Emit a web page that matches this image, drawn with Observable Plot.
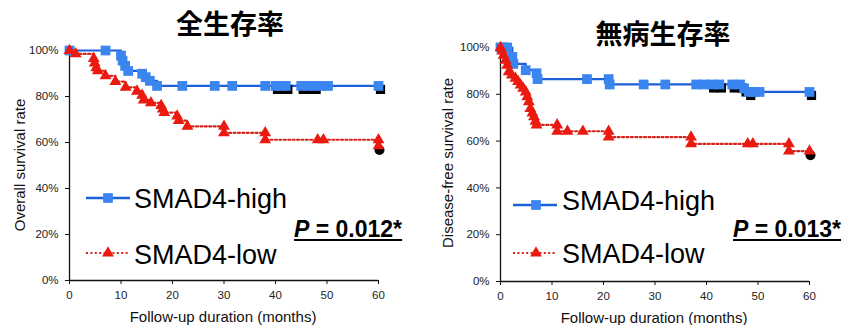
<!DOCTYPE html>
<html>
<head>
<meta charset="utf-8">
<script src="https://cdn.jsdelivr.net/npm/d3@7"></script>
<script src="https://cdn.jsdelivr.net/npm/@observablehq/plot@0.6"></script>
<style>
  body { margin: 0; background: #fff; }
  #wrap { position: relative; width: 849px; height: 325px; overflow: hidden; background: #fff; }
  .panel { position: absolute; top: 0; width: 425px; height: 325px; }
  #overlay { position: absolute; left: 0; top: 0; pointer-events: none; }
  #overlay text { font-family: "Liberation Sans", Arial, sans-serif; fill: #000; }
</style>
</head>
<body>
<div id="wrap">
  <div class="panel" id="left" style="left:0"></div>
  <div class="panel" id="right" style="left:425px"></div>
  <svg id="overlay" width="849" height="325"></svg>
</div>
<script>
// ---------- data ----------
const titles = ["全生存率", "無病生存率"];
const yLabels = ["Overall survival rate", "Disease-free survival rate"];
const xLabel = "Follow-up duration (months)";
const seriesNames = ["SMAD4-high", "SMAD4-low"];
const pValues = ["0.012*", "0.013*"];
const xTicks = [0, 10, 20, 30, 40, 50, 60];
const yTicks = [0, 20, 40, 60, 80, 100];

// Overall survival – SMAD4-high
const osHighMonths = [0, 7, 10, 10.3, 10.8, 11.4, 14.1, 14.8, 15.6, 17, 21.9, 28.2, 31.6, 38, 40, 41, 42, 45, 46.3, 47.5, 48.7, 50.2, 60];
const osHighRate   = [100, 100, 97.8, 95.6, 93.3, 91.1, 89.9, 88.4, 86.8, 84.6, 84.6, 84.6, 84.6, 84.6, 84.6, 84.6, 84.6, 84.6, 84.6, 84.6, 84.6, 84.6, 84.6];
// Overall survival – SMAD4-low
const osLowMonths = [0, 1.2, 4.7, 4.9, 5.2, 5.5, 7, 8.9, 10.9, 13.1, 14.1, 14.4, 15.8, 17.8, 18.1, 18.4, 20.9, 21.2, 22.9, 30, 30, 38, 38, 48.2, 49.3, 60, 60];
const osLowRate   = [100, 98.5, 96.5, 94.5, 92.5, 91.2, 89, 86.5, 84, 82.3, 80.5, 78.4, 77.2, 76, 74.5, 73, 71.5, 69.5, 67, 67, 64.2, 64.2, 61.2, 61.2, 61.2, 61.2, 58.5];
// Disease-free survival – SMAD4-high
const dfsHighMonths = [0, 0.6, 1.3, 2.3, 2.5, 4.9, 7, 7.2, 16.8, 21, 21.2, 27.8, 32, 38, 39.5, 41, 42.5, 45, 46.5, 47.3, 48.2, 49.2, 50.3, 60];
const dfsHighRate   = [100, 100, 100, 96, 93, 90.3, 89, 86.5, 86.5, 86.5, 84.2, 84.2, 84.2, 84.2, 84.2, 84.2, 84.2, 84.2, 84.2, 82.5, 81, 81, 81, 81];
// Disease-free survival – SMAD4-low
const dfsLowMonths = [0, 0.3, 0.6, 1, 1.3, 1.6, 2.2, 2.9, 3.4, 3.9, 4.4, 4.9, 5.2, 5.5, 5.8, 6.2, 6.5, 6.8, 7, 11, 11, 13, 16, 21, 21, 37, 37, 48, 49, 56, 56, 60];
const dfsLowRate   = [100, 98.5, 96.7, 94.5, 92.4, 89.6, 88.2, 86.8, 85.4, 83.9, 82.5, 81, 78.9, 76.8, 73.9, 72, 70.4, 68.5, 66.9, 66.9, 64.2, 64.2, 64.2, 64.2, 61.7, 61.7, 58.8, 58.8, 58.8, 58.8, 55.7, 55.7];

// ---------- style ----------
const BLUE_LINE = "#1c5fd9";
const BLUE_MARK = "#3a85f0";
const RED_LINE = "#d8231c";
const RED_MARK = "#ea1a10";
const SQ_R = 5.5;
const TRI_R = 4.4;

const toRows = (m, r) => m.map((t, i) => ({t, s: r[i]}));

function km(high, low, margins) {
  const shadowHigh = high.filter(d => (d.t >= 40 && d.t <= 48.5) || d.t === 60);
  const lastLow = [low[low.length - 1]];
  return Plot.plot({
    width: 425,
    height: 325,
    ...margins,
    style: {fontFamily: "'Liberation Sans', Arial, sans-serif", fontSize: "11.5px", color: "#222", background: "transparent"},
    x: {domain: [0, 60]},
    y: {domain: [0, 100]},
    marks: [
      Plot.axisY({ticks: yTicks, tickFormat: d => d + "%", tickSize: 4, tickPadding: 7, label: null, stroke: "#111"}),
      Plot.axisX({ticks: xTicks, tickSize: 4, tickPadding: 6, label: null, stroke: "#111"}),
      Plot.ruleX([0], {stroke: "#111", strokeWidth: 1.3}),
      Plot.ruleY([0], {stroke: "#111", strokeWidth: 1.3}),
      Plot.line(high, {x: "t", y: "s", curve: "step-after", stroke: BLUE_LINE, strokeWidth: 2.2}),
      Plot.line(low, {x: "t", y: "s", curve: "step-after", stroke: RED_LINE, strokeWidth: 2.2, strokeDasharray: "2,2.4"}),
      Plot.dot(shadowHigh, {x: "t", y: "s", symbol: "square", r: SQ_R - 0.3, fill: "#000", dx: 2, dy: 3.5}),
      Plot.dot(lastLow, {x: "t", y: "s", symbol: "circle", r: 5, fill: "#000", dx: 1, dy: 4}),
      Plot.dot(high, {x: "t", y: "s", symbol: "square", r: SQ_R, fill: BLUE_MARK}),
      Plot.dot(low, {x: "t", y: "s", symbol: "triangle", r: TRI_R, fill: RED_MARK})
    ]
  });
}

document.getElementById("left").append(
  km(toRows(osHighMonths, osHighRate), toRows(osLowMonths, osLowRate),
     {marginLeft: 69, marginRight: 47, marginTop: 50, marginBottom: 45})
);
document.getElementById("right").append(
  km(toRows(dfsHighMonths, dfsHighRate), toRows(dfsLowMonths, dfsLowRate),
     {marginLeft: 75, marginRight: 41, marginTop: 47, marginBottom: 44})
);

// ---------- overlay: titles, axis labels, legends, p values ----------
const svg = d3.select("#overlay");
const panels = [
  {title: [230, 34], yl: [19, 165], xl: [223, 322], leg: {x0: 86, x1: 130, xm: 108, y1: 198, y2: 253, tx: 134, b1: 208, b2: 264}, p: [294, 237]},
  {title: [663, 44], yl: [447, 163], xl: [654, 323], leg: {x0: 513, x1: 557, xm: 536, y1: 205, y2: 253, tx: 562, b1: 210, b2: 263}, p: [733, 237]}
];
panels.forEach((c, i) => {
  svg.append("text").attr("x", c.title[0]).attr("y", c.title[1]).attr("text-anchor", "middle")
    .style("font-family", "'Noto Sans CJK JP', 'Noto Sans CJK TC', sans-serif").style("font-weight", 700).style("font-size", "27px")
    .text(titles[i]);
  svg.append("text").attr("transform", `translate(${c.yl[0]},${c.yl[1]}) rotate(-90)`).attr("text-anchor", "middle")
    .attr("dominant-baseline", "central").style("font-size", "15px").style("fill", "#111").text(yLabels[i]);
  svg.append("text").attr("x", c.xl[0]).attr("y", c.xl[1]).attr("text-anchor", "middle")
    .style("font-size", "15px").style("fill", "#111").text(xLabel);
  const L = c.leg;
  svg.append("line").attr("x1", L.x0).attr("x2", L.x1).attr("y1", L.y1).attr("y2", L.y1)
    .attr("stroke", BLUE_LINE).attr("stroke-width", 2.4);
  svg.append("path").attr("transform", `translate(${L.xm},${L.y1})`)
    .attr("d", d3.symbol(d3.symbolSquare, SQ_R * SQ_R * Math.PI)()).attr("fill", BLUE_MARK);
  svg.append("line").attr("x1", L.x0).attr("x2", L.x1 - 2).attr("y1", L.y2).attr("y2", L.y2)
    .attr("stroke", RED_LINE).attr("stroke-width", 2.2).attr("stroke-dasharray", "2,2.4");
  svg.append("path").attr("transform", `translate(${L.xm},${L.y2})`)
    .attr("d", d3.symbol(d3.symbolTriangle, TRI_R * TRI_R * Math.PI)()).attr("fill", RED_MARK);
  svg.append("text").attr("x", L.tx).attr("y", L.b1).style("font-size", "27px").text(seriesNames[0]);
  svg.append("text").attr("x", L.tx).attr("y", L.b2).style("font-size", "27px").text(seriesNames[1]);
  const pt = svg.append("text").attr("x", c.p[0]).attr("y", c.p[1]).style("font-size", "23px").style("font-weight", 700);
  pt.append("tspan").style("font-style", "italic").text("P");
  pt.append("tspan").text(" = " + pValues[i]);
  const w = pt.node().getComputedTextLength();
  svg.append("line").attr("x1", c.p[0]).attr("x2", c.p[0] + w).attr("y1", c.p[1] + 3).attr("y2", c.p[1] + 3)
    .attr("stroke", "#000").attr("stroke-width", 2);
});
</script>
</body>
</html>
